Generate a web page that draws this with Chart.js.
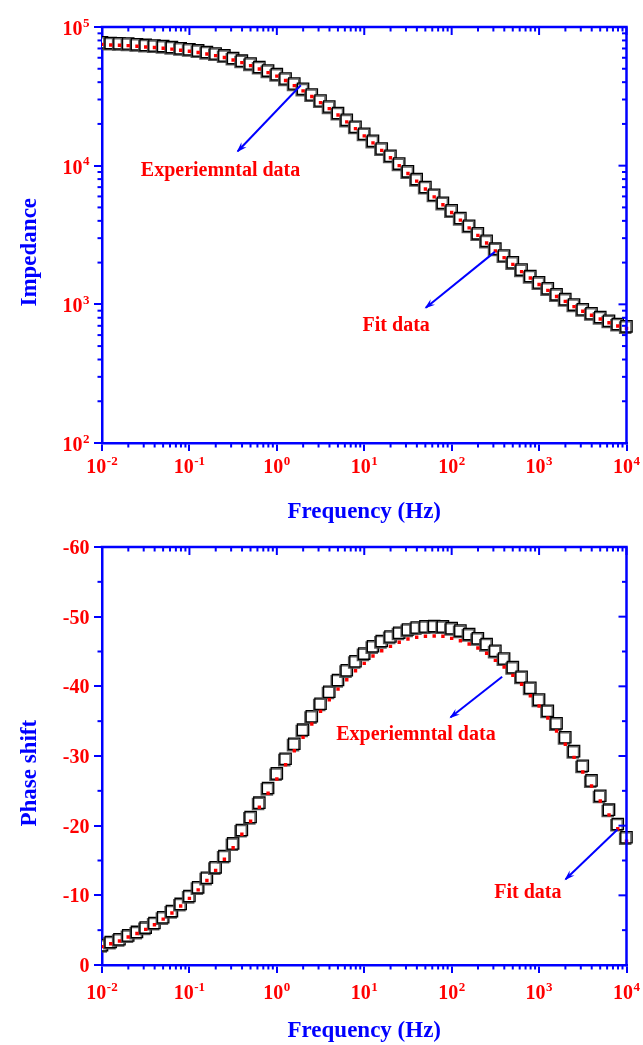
<!DOCTYPE html>
<html>
<head>
<meta charset="utf-8">
<script src="https://cdn.jsdelivr.net/npm/chart.js@4.4.0/dist/chart.umd.min.js"></script>
<style>
html,body{margin:0;padding:0;background:#ffffff;}
canvas{display:block;}
</style>
</head>
<body>
<canvas id="impChart" width="643" height="530"></canvas>
<canvas id="phaseChart" width="643" height="515"></canvas>
<script>
// ---------------- DATA ----------------
const freq = [
  0.01,0.01259,0.01585,0.01995,0.02512,0.03162,0.03981,0.05012,0.0631,0.07943,
  0.1,0.1259,0.1585,0.1995,0.2512,0.3162,0.3981,0.5012,0.631,0.7943,
  1,1.259,1.585,1.995,2.512,3.162,3.981,5.012,6.31,7.943,
  10,12.59,15.85,19.95,25.12,31.62,39.81,50.12,63.1,79.43,
  100,125.9,158.5,199.5,251.2,316.2,398.1,501.2,631,794.3,
  1000,1259,1585,1995,2512,3162,3981,5012,6310,7943,
  10000
];
const impedanceExp = [
  77600,76700,76400,76000,75100,74300,73600,72800,71700,70300,
  69100,67800,66000,64400,62400,59800,57200,54500,51500,48500,
  45700,42500,39100,35800,32600,29500,26700,24000,21400,19100,
  17000,15100,13300,11800,10350,9100,8000,7020,6170,5400,
  4760,4190,3690,3250,2870,2520,2250,2010,1780,1600,
  1440,1305,1180,1090,996,922,863,810,762,722,
  694
];
const impedanceFit = [
  75000,74100,73800,73400,72600,71800,71100,70300,69300,67900,
  66800,65500,63800,62200,60300,57800,55300,52700,49800,46900,
  44200,41100,37800,34600,31500,28500,25800,23200,20700,18500,
  16400,14600,12900,11400,10000,8790,7730,6780,5960,5220,
  4600,4050,3560,3140,2770,2430,2170,1940,1720,1550,
  1390,1260,1140,1050,962,891,834,783,736,698,
  671
];
const phaseExp = [
  -2.85,-3.3,-3.7,-4.25,-4.75,-5.37,-6.03,-6.85,-7.74,-8.77,
  -9.9,-11.15,-12.52,-14.02,-15.65,-17.45,-19.38,-21.24,-23.3,-25.4,
  -27.5,-29.6,-31.75,-33.78,-35.7,-37.5,-39.23,-40.9,-42.3,-43.6,
  -44.7,-45.75,-46.5,-47.15,-47.7,-48.15,-48.45,-48.6,-48.65,-48.6,
  -48.35,-48.0,-47.5,-46.9,-46.07,-45.1,-44.0,-42.75,-41.38,-39.8,
  -38.1,-36.5,-34.69,-32.7,-30.7,-28.6,-26.5,-24.3,-22.3,-20.24,
  -18.33
];
const phaseFit = [
  -2.63,-3.06,-3.45,-4.02,-4.52,-5.12,-5.77,-6.58,-7.46,-8.47,
  -9.57,-10.79,-12.13,-13.59,-15.17,-16.84,-18.76,-20.63,-22.64,-24.65,
  -26.70,-28.75,-30.76,-32.68,-34.59,-36.41,-38.07,-39.6,-40.95,-42.24,
  -43.3,-44.35,-45.11,-45.74,-46.32,-46.79,-47.04,-47.18,-47.22,-47.18,
  -46.89,-46.55,-46.07,-45.5,-44.74,-43.73,-42.77,-41.58,-40.29,-38.65,
  -37.18,-35.45,-33.59,-31.68,-29.81,-27.7,-25.69,-23.54,-21.55,-19.56,
  -17.77
];
// tick values & labels ("base^exponent")
const freqTicks = [0.01, 0.1, 1, 10, 100, 1000, 10000];
const freqTickLabels = ['10^-2','10^-1','10^0','10^1','10^2','10^3','10^4'];
const impTicks = [100, 1000, 10000, 100000];
const impTickLabels = ['10^2','10^3','10^4','10^5'];
const phaseTicks = [-60, -50, -40, -30, -20, -10, 0];
const phaseTickLabels = ['-60','-50','-40','-30','-20','-10','0'];
const phaseMinorTicks = [-55, -45, -35, -25, -15, -5];

// annotations (data coordinates)
const impNotes = {
  arrows: [ {from:[1.88, 38000], to:[0.357, 12700]}, {from:[312, 2390], to:[50.6, 946]} ],
  labels: [ {text:'Experiemntal data', at:[0.227, 9190]}, {text:'Fit data', at:[23.2, 698]} ]
};
const phaseNotes = {
  arrows: [ {from:[378, -41.38], to:[97.3, -35.56]}, {from:[7890, -19.45], to:[2010, -12.3]} ],
  labels: [ {text:'Experiemntal data', at:[39, -33.0]}, {text:'Fit data', at:[745, -10.3]} ]
};

// ---------------- STYLE ----------------
const BLUE = '#0000ff';
const RED = '#ff0000';
const SERIF = "'Times New Roman', 'Liberation Serif', serif";

function logMinors(majors) {
  const out = [];
  for (let i = 0; i < majors.length - 1; i++) {
    for (let m = 2; m <= 9; m++) out.push(majors[i] * m);
  }
  return out;
}

const framePlugin = {
  id: 'frame',
  afterDraw(chart, args, opts) {
    const {ctx, chartArea: a, scales: {x, y}} = chart;
    ctx.save();
    ctx.strokeStyle = BLUE;
    ctx.lineWidth = 2.5;
    ctx.beginPath();
    ctx.moveTo(a.left - 1.25, a.top);
    ctx.lineTo(a.right, a.top);
    ctx.lineTo(a.right, a.bottom + 1.25);
    ctx.stroke();
    ctx.lineWidth = 2;
    const MAJ = 8, MIN = 4.5;
    const seg = (x1, y1, x2, y2) => { ctx.beginPath(); ctx.moveTo(x1, y1); ctx.lineTo(x2, y2); ctx.stroke(); };
    opts.xMajor.forEach(v => {
      const p = x.getPixelForValue(v);
      seg(p, a.top, p, a.top + MAJ);
    });
    opts.xMinor.forEach(v => {
      const p = x.getPixelForValue(v);
      seg(p, a.top, p, a.top + MIN);
      seg(p, a.bottom, p, a.bottom + MIN);
    });
    opts.yMajor.forEach(v => {
      const p = y.getPixelForValue(v);
      seg(a.right, p, a.right - MAJ, p);
    });
    opts.yMinor.forEach(v => {
      const p = y.getPixelForValue(v);
      seg(a.right, p, a.right - MIN, p);
      seg(a.left, p, a.left - MIN, p);
    });

    // tick labels with real superscripts
    const baseFont = 'bold 20px ' + SERIF;
    const expFont = 'bold 13px ' + SERIF;
    ctx.fillStyle = RED;
    ctx.textBaseline = 'alphabetic';
    ctx.textAlign = 'left';
    const measure = (lab) => {
      const [b, e] = lab.split('^');
      ctx.font = baseFont; const wb = ctx.measureText(b).width;
      let we = 0;
      if (e !== undefined) { ctx.font = expFont; we = ctx.measureText(e).width + 0.5; }
      return {b, e, wb, we};
    };
    const put = (m, left, base) => {
      ctx.font = baseFont; ctx.fillText(m.b, left, base);
      if (m.e !== undefined) { ctx.font = expFont; ctx.fillText(m.e, left + m.wb + 0.5, base - 8.5); }
    };
    opts.xMajor.forEach((v, i) => {
      const m = measure(opts.xLabels[i]);
      const p = x.getPixelForValue(v);
      put(m, p - (m.wb + m.we) / 2, a.bottom + opts.xLabelDrop);
    });
    opts.yMajor.forEach((v, i) => {
      const m = measure(opts.yLabels[i]);
      const p = y.getPixelForValue(v);
      put(m, 89.5 - (m.wb + m.we), p + opts.yLabelDrop);
    });
    ctx.restore();
  }
};

const notesPlugin = {
  id: 'notes',
  afterDraw(chart, args, opts) {
    const {ctx, scales: {x, y}} = chart;
    ctx.save();
    (opts.arrows || []).forEach(ar => {
      const x1 = x.getPixelForValue(ar.from[0]), y1 = y.getPixelForValue(ar.from[1]);
      const x2 = x.getPixelForValue(ar.to[0]), y2 = y.getPixelForValue(ar.to[1]);
      ctx.strokeStyle = BLUE; ctx.fillStyle = BLUE; ctx.lineWidth = 2;
      ctx.beginPath(); ctx.moveTo(x1, y1); ctx.lineTo(x2, y2); ctx.stroke();
      const ang = Math.atan2(y2 - y1, x2 - x1), L = 9, W = 3.5;
      const c = Math.cos(ang), s = Math.sin(ang);
      ctx.beginPath();
      ctx.moveTo(x2 + c * 1.5, y2 + s * 1.5);
      ctx.lineTo(x2 - L * c + W * s, y2 - L * s - W * c);
      ctx.lineTo(x2 - L * 0.6 * c, y2 - L * 0.6 * s);
      ctx.lineTo(x2 - L * c - W * s, y2 - L * s + W * c);
      ctx.closePath(); ctx.fill();
    });
    ctx.fillStyle = RED;
    ctx.font = 'bold 20px ' + SERIF;
    ctx.textAlign = 'center';
    ctx.textBaseline = 'middle';
    (opts.labels || []).forEach(l => {
      ctx.fillText(l.text, x.getPixelForValue(l.at[0]), y.getPixelForValue(l.at[1]));
    });
    ctx.restore();
  }
};

const shadowPlugin = {
  id: 'squareShadow',
  beforeDatasetDraw(chart, args) {
    if (args.index === 1) {
      const ctx = chart.ctx;
      ctx.save();
      ctx.shadowColor = 'rgba(70,70,70,0.85)';
      ctx.shadowOffsetX = -1.3;
      ctx.shadowOffsetY = 1.3;
      ctx.shadowBlur = 0;
    }
  },
  afterDatasetDraw(chart, args) {
    if (args.index === 1) chart.ctx.restore();
  }
};

function pts(xs, ys) { return xs.map((f, i) => ({x: f, y: ys[i]})); }

function buildChart(id, cfg) {
  const titleFont = {family: SERIF, size: 23, weight: 'bold'};
  return new Chart(document.getElementById(id), {
    type: 'scatter',
    data: {
      datasets: [
        {
          label: 'Fit data',
          data: pts(freq, cfg.fit),
          pointStyle: 'rect', pointRadius: 2.4,
          backgroundColor: RED, borderColor: RED, pointBorderWidth: 0,
          showLine: false, clip: {left: 0, top: 0, right: 8, bottom: 0}
        },
        {
          label: 'Experimental data',
          data: pts(freq, cfg.exp),
          pointStyle: 'rect', pointRadius: 8.0,
          backgroundColor: '#ffffff', borderColor: '#000000', pointBorderWidth: 1.3,
          showLine: false, clip: {left: 0, top: 0, right: 8, bottom: 0}
        }
      ]
    },
    options: {
      responsive: false,
      animation: false,
      events: [],
      layout: {padding: {left: 0, right: 16.5, top: cfg.padTop, bottom: 0}},
      plugins: {
        legend: {display: false},
        tooltip: {enabled: false},
        frame: {
          xMajor: freqTicks, xMinor: logMinors(freqTicks), xLabels: freqTickLabels,
          yMajor: cfg.yTicks, yMinor: cfg.yMinor, yLabels: cfg.yTickLabels,
          xLabelDrop: cfg.xLabelDrop, yLabelDrop: cfg.yLabelDrop
        },
        notes: cfg.notes
      },
      scales: {
        x: {
          type: 'logarithmic',
          position: 'bottom',
          min: 0.01, max: 10000,
          afterBuildTicks: s => { s.ticks = freqTicks.map(v => ({value: v})); },
          afterFit: s => { s.height = cfg.xAxisH; s.paddingLeft = 0; s.paddingRight = 0; },
          border: {display: true, color: BLUE, width: 2.5},
          grid: {display: true, drawOnChartArea: false, drawTicks: true, tickLength: 8, tickWidth: 2, tickColor: BLUE, color: BLUE, lineWidth: 2},
          ticks: {display: false, autoSkip: false},
          title: {display: true, text: 'Frequency (Hz)', color: BLUE, font: titleFont, padding: {top: 0, bottom: cfg.xTitlePad}}
        },
        y: {
          type: cfg.yType,
          position: 'left',
          min: cfg.yMin, max: cfg.yMax,
          reverse: cfg.yReverse,
          afterBuildTicks: s => { s.ticks = cfg.yTicks.map(v => ({value: v})); },
          afterFit: s => { s.width = 102; s.paddingTop = 0; s.paddingBottom = 0; },
          border: {display: true, color: BLUE, width: 2.5},
          grid: {display: true, drawOnChartArea: false, drawTicks: true, tickLength: 8, tickWidth: 2, tickColor: BLUE, color: BLUE, lineWidth: 2},
          ticks: {display: false, autoSkip: false},
          title: {display: true, text: cfg.yTitle, color: BLUE, font: titleFont, padding: {top: 16, bottom: 0}}
        }
      }
    },
    plugins: [shadowPlugin, framePlugin, notesPlugin]
  });
}

buildChart('impChart', {
  fit: impedanceFit, exp: impedanceExp,
  yType: 'logarithmic', yMin: 100, yMax: 100000, yReverse: false,
  yTicks: impTicks, yTickLabels: impTickLabels, yMinor: logMinors(impTicks),
  yTitle: 'Impedance      ',
  padTop: 27, xAxisH: 87, xTitlePad: 4,
  xLabelDrop: 30, yLabelDrop: 8,
  notes: impNotes
});

buildChart('phaseChart', {
  fit: phaseFit, exp: phaseExp,
  yType: 'linear', yMin: -60, yMax: 0, yReverse: true,
  yTicks: phaseTicks, yTickLabels: phaseTickLabels, yMinor: phaseMinorTicks,
  yTitle: 'Phase shift      ',
  padTop: 17, xAxisH: 80, xTitlePad: 0,
  xLabelDrop: 34, yLabelDrop: 7,
  notes: phaseNotes
});
</script>
</body>
</html>
